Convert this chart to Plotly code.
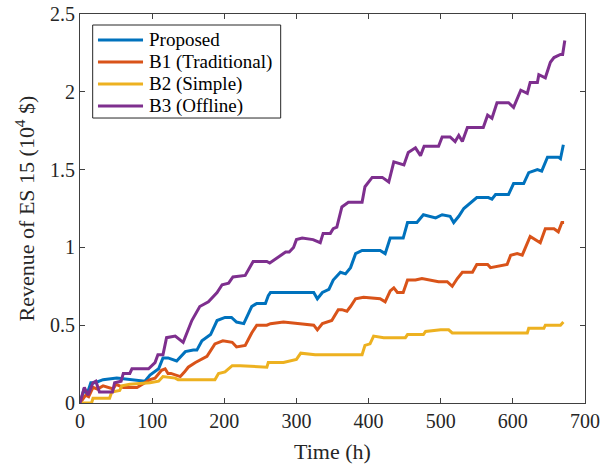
import plotly.graph_objects as go

# ---- data (time in h, revenue in 10^4 $) ----
prop_t = [0, 5, 10, 15, 21, 32, 51, 67, 90, 97, 109, 115, 122, 134, 146, 157, 162, 169, 181, 190, 201, 210, 217, 227, 238, 245, 257, 261, 264, 282, 310, 324, 329, 336, 345, 351, 361, 368, 375, 382, 391, 416, 423, 430, 448, 454, 467, 476, 493, 502, 513, 518, 525, 532, 550, 566, 571, 576, 594, 601, 615, 622, 634, 640, 648, 663, 666, 670]
prop_v = [0, 0.08, 0.06, 0.13, 0.13, 0.15, 0.16, 0.15, 0.14, 0.18, 0.22, 0.29, 0.29, 0.27, 0.33, 0.34, 0.34, 0.40, 0.44, 0.53, 0.55, 0.55, 0.52, 0.51, 0.62, 0.64, 0.64, 0.69, 0.71, 0.71, 0.71, 0.71, 0.67, 0.71, 0.73, 0.79, 0.84, 0.83, 0.87, 0.96, 0.98, 0.98, 0.96, 1.06, 1.06, 1.16, 1.16, 1.21, 1.19, 1.21, 1.20, 1.16, 1.20, 1.25, 1.32, 1.32, 1.31, 1.34, 1.34, 1.41, 1.41, 1.48, 1.50, 1.49, 1.58, 1.58, 1.57, 1.66]

b1_t = [0, 8, 12, 18, 24, 32, 46, 50, 60, 69, 79, 90, 97, 104, 113, 118, 122, 126, 134, 139, 145, 150, 160, 169, 176, 187, 198, 211, 217, 229, 238, 245, 259, 264, 282, 305, 324, 329, 336, 349, 358, 363, 370, 375, 382, 393, 416, 423, 430, 435, 440, 448, 454, 465, 474, 497, 509, 516, 523, 530, 544, 550, 565, 569, 592, 597, 606, 613, 620, 624, 638, 645, 657, 663, 668, 671]
b1_v = [0, 0.05, 0.04, 0.10, 0.09, 0.11, 0.09, 0.12, 0.10, 0.10, 0.10, 0.13, 0.15, 0.16, 0.21, 0.22, 0.19, 0.19, 0.18, 0.17, 0.20, 0.23, 0.26, 0.28, 0.30, 0.38, 0.40, 0.39, 0.36, 0.37, 0.45, 0.50, 0.50, 0.51, 0.52, 0.51, 0.50, 0.47, 0.51, 0.53, 0.60, 0.60, 0.59, 0.62, 0.67, 0.68, 0.67, 0.65, 0.72, 0.74, 0.71, 0.71, 0.79, 0.79, 0.80, 0.78, 0.78, 0.75, 0.80, 0.84, 0.84, 0.89, 0.89, 0.87, 0.89, 0.95, 0.96, 0.95, 1.03, 1.07, 1.03, 1.12, 1.12, 1.10, 1.16, 1.16]

b2_t = [0, 16, 18, 41, 44, 55, 58, 69, 97, 109, 115, 132, 136, 187, 192, 201, 211, 222, 259, 261, 282, 300, 306, 326, 391, 395, 402, 407, 421, 451, 454, 476, 479, 500, 511, 516, 620, 622, 643, 645, 666, 670]
b2_v = [0, 0, 0.03, 0.03, 0.07, 0.08, 0.11, 0.12, 0.13, 0.14, 0.17, 0.16, 0.15, 0.15, 0.19, 0.20, 0.24, 0.24, 0.23, 0.26, 0.26, 0.28, 0.32, 0.31, 0.31, 0.37, 0.38, 0.43, 0.42, 0.42, 0.44, 0.44, 0.46, 0.47, 0.47, 0.45, 0.45, 0.48, 0.48, 0.50, 0.50, 0.52]

b3_t = [0, 6, 11, 18, 22, 27, 45, 48, 57, 60, 69, 72, 95, 104, 108, 115, 120, 132, 143, 155, 166, 178, 190, 197, 206, 212, 229, 240, 259, 263, 285, 290, 296, 300, 308, 323, 333, 337, 347, 351, 356, 363, 372, 391, 395, 405, 419, 428, 435, 449, 455, 465, 472, 477, 497, 502, 513, 520, 525, 530, 537, 559, 565, 571, 578, 594, 601, 611, 620, 624, 634, 636, 645, 652, 657, 666, 669, 672]
b3_v = [0, 0.10, 0.05, 0.13, 0.14, 0.07, 0.07, 0.13, 0.14, 0.19, 0.19, 0.22, 0.22, 0.26, 0.31, 0.31, 0.42, 0.43, 0.39, 0.53, 0.62, 0.65, 0.71, 0.76, 0.77, 0.81, 0.82, 0.91, 0.91, 0.90, 0.97, 0.97, 1.00, 1.05, 1.06, 1.05, 1.03, 1.09, 1.09, 1.12, 1.13, 1.26, 1.29, 1.29, 1.39, 1.45, 1.45, 1.42, 1.55, 1.53, 1.61, 1.64, 1.59, 1.65, 1.65, 1.71, 1.71, 1.68, 1.72, 1.68, 1.77, 1.77, 1.85, 1.83, 1.93, 1.93, 1.90, 2.01, 1.99, 2.06, 2.06, 2.11, 2.09, 2.19, 2.22, 2.24, 2.24, 2.33]

names = ["Proposed", "B1 (Traditional)", "B2 (Simple)", "B3 (Offline)"]
colors = ["#0072BD", "#D95319", "#EDB120", "#7E2F8E"]
x_ticks = [0, 100, 200, 300, 400, 500, 600, 700]
y_ticks = [0, 0.5, 1, 1.5, 2, 2.5]
y_ticklabels = ["0", "0.5", "1", "1.5", "2", "2.5"]

FONT = "Liberation Serif, Times New Roman, serif"
LW = 3

fig = go.Figure()
for t, v, n, c in zip([prop_t, b1_t, b2_t, b3_t], [prop_v, b1_v, b2_v, b3_v], names, colors):
    fig.add_trace(go.Scatter(x=t, y=v, mode="lines", name=n, showlegend=False,
                             line=dict(color=c, width=LW)))

# MATLAB-style boxed legend (paper coordinates inside the axes box)
leg_x0, leg_x1, leg_y0, leg_y1 = 0.0251, 0.3974, 0.7326, 0.9717
row_y = [0.9332, 0.8766, 0.8201, 0.7635]
fig.add_shape(type="rect", xref="paper", yref="paper", x0=leg_x0, x1=leg_x1, y0=leg_y0, y1=leg_y1,
              line=dict(color="#262626", width=1), fillcolor="white", layer="above")
for n, c, ry in zip(names, colors, row_y):
    fig.add_shape(type="line", xref="paper", yref="paper", x0=0.0356, x1=0.1248, y0=ry, y1=ry,
                  line=dict(color=c, width=LW), layer="above")
    fig.add_annotation(xref="paper", yref="paper", x=0.1327, y=ry, text=n, showarrow=False,
                       xanchor="left", yanchor="middle",
                       font=dict(family=FONT, size=19, color="#000000"))

axis_common = dict(showline=True, linecolor="#404040", linewidth=1, mirror="ticks",
                   ticks="inside", ticklen=5, tickcolor="#404040", showgrid=False,
                   zeroline=False, automargin=False, ticklabeloverflow="allow",
                   tickfont=dict(family=FONT, size=20, color="#262626"))

fig.update_layout(
    width=602, height=464,
    margin=dict(l=80, r=17, t=14, b=61),
    paper_bgcolor="white", plot_bgcolor="white",
    font=dict(family=FONT, color="#262626"),
    xaxis=dict(range=[0, 700], tickvals=x_ticks,
               title=dict(text="Time (h)", font=dict(family=FONT, size=22, color="#262626"), standoff=13),
               **axis_common),
    yaxis=dict(range=[0, 2.5], tickvals=y_ticks, ticktext=y_ticklabels,
               title=dict(text="Revenue of ES 15 (10<sup>4</sup> $)", font=dict(family=FONT, size=22, color="#262626"), standoff=9),
               **axis_common),
    showlegend=False,
)

# remove the default 8px page margin so the 602x464 figure fills the window exactly
fig.write_html("out.html",
               config={"displayModeBar": False},
               post_script="document.body.style.margin='0';document.body.style.overflow='hidden';")
